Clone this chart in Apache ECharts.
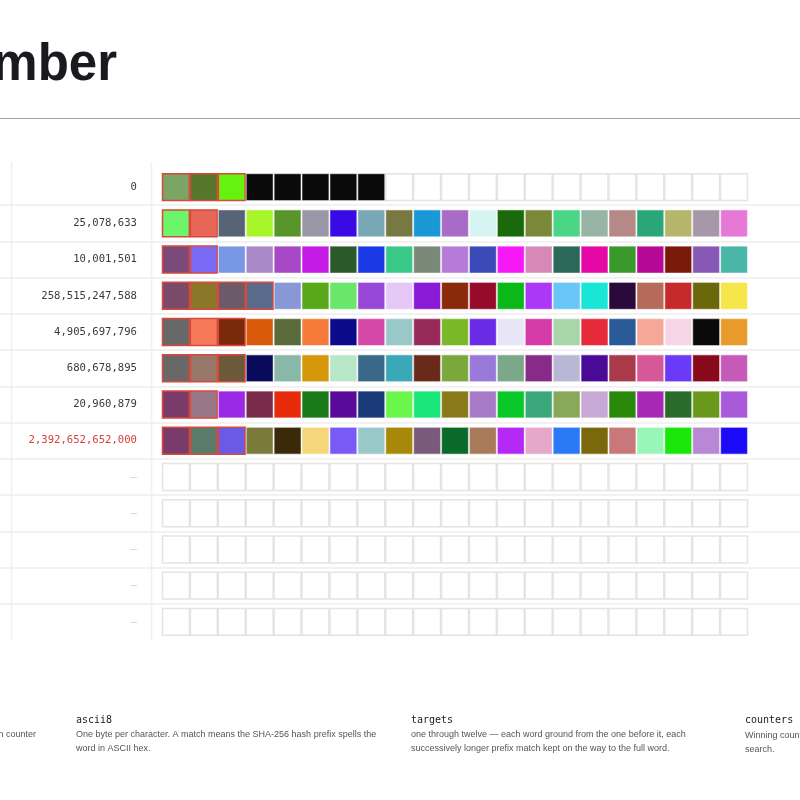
<!DOCTYPE html>
<html>
<head>
<meta charset="utf-8">
<script src="https://cdn.jsdelivr.net/npm/echarts@6/dist/echarts.min.js"></script>
<style>
html,body{margin:0;padding:0;background:#fff;}
#chart{width:800px;height:800px;}
</style>
</head>
<body>
<div id="chart"></div>
<script>
// ---- data ----
const rowLabels = ['0', '25,078,633', '10,001,501', '258,515,247,588', '4,905,697,796', '680,678,895', '20,960,879', '2,392,652,652,000', '—', '—', '—', '—', '—'];
const winnerRow = 7;
const matchLengths = [3, 2, 2, 4, 3, 3, 2, 3, 0, 0, 0, 0, 0];
const columnCount = 21;

const colorsOne = ['#7aa565', '#56762c', '#66f20f', '#0a0a0a', '#0a0a0a', '#0a0a0a', '#0a0a0a', '#0a0a0a'];
const colorsTwo = ['#6bf56a', '#e86658', '#566475', '#a8f52a', '#58962c', '#9a98a6', '#3a0ae6', '#78a8b6', '#787843', '#1a98d6', '#a66cc6', '#d6f4f2', '#1a6a0c', '#7a8838', '#4ad686', '#98b4a4', '#b68886', '#2aa67a', '#b6b66a', '#a698a8', '#e678d6'];
const colorsThree = ['#7a4a78', '#7a6af6', '#7898e6', '#a888c6', '#a648c6', '#c61ae6', '#2a5a2a', '#1a3ae6', '#3ac888', '#7a8878', '#b67ad8', '#3a4ab8', '#f618f6', '#d688b6', '#2a685a', '#e608a6', '#3a982a', '#b60896', '#7a1a0a', '#8858b6', '#4ab6a8'];
const colorsFour = ['#7a4a6a', '#8a7828', '#6a5a6a', '#5a6a8a', '#8898d6', '#58a81a', '#6ae66a', '#9848d6', '#e6c8f6', '#8a1ad6', '#8a2a0a', '#960a2a', '#0ab81a', '#aa38f6', '#6ac6f6', '#1ae6d8', '#2a0a3a', '#b66a5a', '#c62a2a', '#6a680a', '#f6e64a'];
const colorsFive = ['#686868', '#f67a5a', '#7a2a0a', '#d85a0a', '#5a6a3a', '#f67a3a', '#0a0a8a', '#d648a8', '#98c8c8', '#982a5a', '#7ab82a', '#6a2ae6', '#e6e6f6', '#d63aa6', '#a8d6a8', '#e62a3a', '#2a5a98', '#f6a898', '#f6d6e6', '#0a0a0a', '#e89a2a'];
const colorsSix = ['#686868', '#987868', '#6a5a3a', '#0a0a5a', '#8ab8a8', '#d6980a', '#b8e6c8', '#3a6888', '#3aa8b8', '#6a2a1a', '#7aa83a', '#9a7ad8', '#7aa888', '#882a88', '#b8b8d6', '#4a0a98', '#a83a4a', '#d65898', '#6a3af6', '#880a1a', '#c65ab8'];
const colorsSeven = ['#7a3a6a', '#987888', '#9a2ae6', '#7a2a4a', '#e62a0a', '#1a7a1a', '#5a0a98', '#1a3a7a', '#6af64a', '#1ae67a', '#8a7a1a', '#a87ac8', '#0ac82a', '#3aa87a', '#8aa85a', '#c8a8d6', '#2a880a', '#a828b6', '#2a6a2a', '#6a981a', '#a85ad8'];
const colorsEight = ['#7a3a6a', '#5a7a6a', '#6a5ae6', '#7a7a3a', '#3a2a0a', '#f6d67a', '#7a5af6', '#98c8c8', '#a8880a', '#7a5a7a', '#0a6a2a', '#a87a5a', '#b628f6', '#e6a8c8', '#2a7af6', '#7a680a', '#c87878', '#98f6b8', '#1ae60a', '#b888d6', '#1a0af6'];
const rowColors = [colorsOne, colorsTwo, colorsThree, colorsFour, colorsFive, colorsSix, colorsSeven, colorsEight, [], [], [], [], []];

// ---- build data ----
const cells = [];
rowLabels.forEach((lab, r) => {
  for (let c = 0; c < columnCount; c++) {
    const col = rowColors[r][c];
    cells.push({
      value: [c, r, c < matchLengths[r] ? 1 : 0, col ? 0 : 1],
      itemStyle: { color: col || '#ffffff' }
    });
  }
});
const colCats = Array.from({length: columnCount}, (_, i) => String(i));

const bodyFont = '9px "Liberation Sans"';
const headFont = '10px "DejaVu Sans Mono"';

const chart = echarts.init(document.getElementById('chart'), null, {renderer: 'canvas'});
chart.setOption({
  backgroundColor: '#ffffff',
  animation: false,
  title: {
    text: 'Number',
    right: 678,
    top: 35,
    textStyle: {fontFamily: 'Liberation Sans', fontWeight: 'bold', fontSize: 51, color: '#1a1a1e'}
  },
  grid: [
    {left: 162, right: 52, top: 169, bottom: 160},
    {left: 0, right: 0, top: 169, bottom: 160}
  ],
  xAxis: [
    {gridIndex: 0, type: 'category', data: colCats, show: false},
    {gridIndex: 1, type: 'value', show: false, min: 0, max: 1}
  ],
  yAxis: [
    {
      gridIndex: 0, type: 'category', data: rowLabels, inverse: true,
      axisLine: {show: false}, axisTick: {show: false}, splitLine: {show: false},
      axisLabel: {
        margin: 25,
        fontFamily: 'DejaVu Sans Mono', fontSize: 10.6, color: '#3a3a3a',
        formatter: (v, i) => i === winnerRow ? '{win|' + v + '}' : (v === '—' ? '{dash|' + v + '}' : v),
        rich: {
          win: {fontFamily: 'DejaVu Sans Mono', fontSize: 10.6, color: '#d8403a'},
          dash: {fontFamily: 'DejaVu Sans Mono', fontSize: 10.6, color: '#cfcfcf'}
        }
      }
    },
    {
      gridIndex: 1, type: 'category', data: rowLabels, inverse: true,
      axisLine: {show: false}, axisTick: {show: false}, axisLabel: {show: false},
      splitLine: {show: true, showMinLine: false, showMaxLine: false, lineStyle: {color: '#eeeeee', width: 1.5}}
    }
  ],
  graphic: [
    {type: 'line', shape: {x1: 0, y1: 118.5, x2: 800, y2: 118.5}, style: {stroke: '#a0a0a0', lineWidth: 1}},
    {type: 'line', shape: {x1: 11.5, y1: 162, x2: 11.5, y2: 640}, style: {stroke: '#f0f0f0', lineWidth: 1.5}},
    {type: 'line', shape: {x1: 151.5, y1: 162, x2: 151.5, y2: 640}, style: {stroke: '#f0f0f0', lineWidth: 1.5}},
    {type: 'text', x: 36, y: 735, style: {text: 'h counter', align: 'right', verticalAlign: 'middle', font: bodyFont, fill: '#555'}},
    {type: 'text', x: 76, y: 720, style: {text: 'ascii8', verticalAlign: 'middle', font: headFont, fill: '#222'}},
    {type: 'text', x: 76, y: 735, style: {text: 'One byte per character. A match means the SHA-256 hash prefix spells the', verticalAlign: 'middle', font: bodyFont, fill: '#555'}},
    {type: 'text', x: 76, y: 749, style: {text: 'word in ASCII hex.', verticalAlign: 'middle', font: bodyFont, fill: '#555'}},
    {type: 'text', x: 411, y: 720, style: {text: 'targets', verticalAlign: 'middle', font: headFont, fill: '#222'}},
    {type: 'text', x: 411, y: 735, style: {text: 'one through twelve — each word ground from the one before it, each', verticalAlign: 'middle', font: bodyFont, fill: '#555'}},
    {type: 'text', x: 411, y: 749, style: {text: 'successively longer prefix match kept on the way to the full word.', verticalAlign: 'middle', font: bodyFont, fill: '#555'}},
    {type: 'text', x: 745, y: 720, style: {text: 'counters', verticalAlign: 'middle', font: headFont, fill: '#222'}},
    {type: 'text', x: 745, y: 735.5, style: {text: 'Winning counters per word', verticalAlign: 'middle', font: bodyFont, fill: '#555'}},
    {type: 'text', x: 745, y: 750, style: {text: 'search.', verticalAlign: 'middle', font: bodyFont, fill: '#555'}}
  ],
  series: [{
    type: 'custom',
    xAxisIndex: 0, yAxisIndex: 0,
    data: cells,
    renderItem: (params, api) => {
      const p = api.coord([api.value(0), api.value(1)]);
      const bw = api.size([1, 0])[0];
      const s = bw - 1;
      const matched = api.value(2) === 1;
      const empty = api.value(3) === 1;
      let stroke = 'rgba(255,255,255,0.45)', lw = 1.2;
      if (matched) { stroke = '#d9483b'; lw = 1.5; }
      else if (empty) { stroke = '#e6e4df'; lw = 1.5; }
      return {
        type: 'rect',
        shape: {x: p[0] - s / 2, y: p[1] - s / 2, width: s, height: s},
        style: {fill: api.visual('color'), stroke: stroke, lineWidth: lw}
      };
    }
  }]
});
</script>
</body>
</html>
